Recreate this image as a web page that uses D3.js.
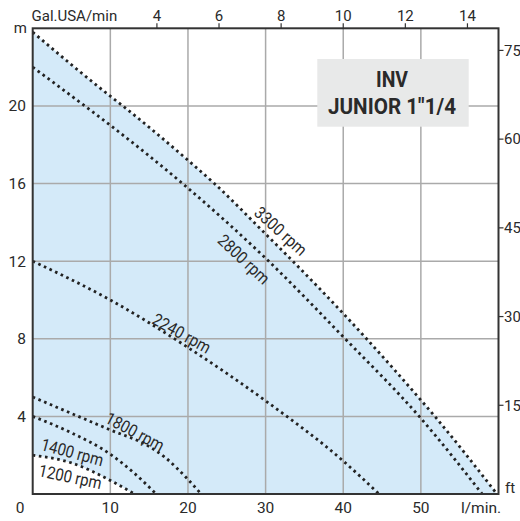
<!DOCTYPE html>
<html><head><meta charset="utf-8">
<script src="https://cdn.jsdelivr.net/npm/d3@7"></script>
<style>body{margin:0;background:#fff}svg{display:block}text{font-family:Roboto,"DejaVu Sans",sans-serif;fill:#2a2a2a}</style>
</head><body>
<script>
// ---- data ----
const flowTicks = [10, 20, 30, 40, 50];
const headTicks = [4, 8, 12, 16, 20];
const galTicks = [4, 6, 8, 10, 12, 14];
const ftTicks = [15, 30, 45, 60, 75];
const rpm3300 = [[0,23.8],[10,20.5],[11.6,20],[20,17.2],[23.4,16],[30,13.4],[33.5,12],[40,9.3],[43,8],[50,4.84],[51.8,4],[59.8,0]];
const rpm2800 = [[0,22],[6.7,20],[10,19],[19.3,16],[30,12.15],[40,8.1],[50,3.9],[57.9,0]];
const rpm2240 = [[0,12],[10,10],[20,7.55],[30,4.8],[40,1.7],[44.6,0]];
const rpm1800 = [[0,5.0],[5,4.15],[10,3.3],[15,2.45],[17,1.9],[20,0.75],[21.7,0]];
const rpm1400 = [[0,4.0],[5,3.15],[10,2.05],[13,1.1],[15.9,0]];
const rpm1200 = [[0,2.0],[5,1.6],[10,0.7],[13.1,0]];
const curveNames = ["3300 rpm","2800 rpm","2240 rpm","1800 rpm","1400 rpm","1200 rpm"];
const labelPos = [[31.96,13.55,42],[27.2,12.1,43],[19.2,8.28,29],[13.17,3.21,28],[5.1,2.15,15],[4.84,0.89,12]];
const titleLines = ["INV", "JUNIOR 1\"1/4"];

// ---- layout ----
const W = 520, H = 521;
const L = 32.7, R = 498.5, T = 28.3, B = 494;
const svg = d3.select("body").append("svg").attr("width", W).attr("height", H);
const x = d3.scaleLinear().domain([0, 60]).range([L, R]);
const y = d3.scaleLinear().domain([0, 24]).range([B, T]);
const xg = d3.scaleLinear().domain([0, 15]).range([L, R]);
const yf = d3.scaleLinear().domain([0, 24 * 3.28084]).range([B, T]);

const line = d3.line().x(d => x(d[0])).y(d => y(d[1])).curve(d3.curveMonotoneX);
const upper = line(rpm3300);
const lowerPath = line(rpm1200);
svg.append("path")
  .attr("d", upper + "L" + x(rpm3300[rpm3300.length-1][0]) + "," + y(0) + "L" + x(0) + "," + y(0) + "Z")
  .attr("fill", "#d4eaf9");
svg.append("path")
  .attr("d", lowerPath + "L" + x(rpm1200[rpm1200.length-1][0]) + "," + y(0) + "L" + x(0) + "," + y(0) + "Z")
  .attr("fill", "#ffffff");

// grid
svg.append("g").selectAll("line").data(flowTicks).join("line")
  .attr("x1", d => x(d)).attr("x2", d => x(d)).attr("y1", T).attr("y2", B)
  .attr("stroke", "#aaaaaa").attr("stroke-width", 1.5);
svg.append("g").selectAll("line").data(headTicks).join("line")
  .attr("x1", L).attr("x2", R).attr("y1", d => y(d)).attr("y2", d => y(d))
  .attr("stroke", "#aaaaaa").attr("stroke-width", 1.5);

// curves
[rpm3300, rpm2800, rpm2240, rpm1800, rpm1400, rpm1200].forEach(c => {
  svg.append("path").attr("d", line(c)).attr("fill", "none")
    .attr("stroke", "#222").attr("stroke-width", 2.8)
    .attr("stroke-dasharray", "2.6,3.6");
});

// title box
svg.append("rect").attr("x", 317.3).attr("y", 59).attr("width", 151.4).attr("height", 67.7).attr("fill", "#e8e9e9");
svg.append("text").attr("x", 392).attr("y", 86.7).attr("text-anchor", "middle")
  .attr("font-size", 21.5).attr("font-weight", "bold").attr("textLength", 32).attr("lengthAdjust", "spacingAndGlyphs").text(titleLines[0]);
svg.append("text").attr("x", 392).attr("y", 114).attr("text-anchor", "middle")
  .attr("font-size", 21.5).attr("font-weight", "bold").attr("textLength", 128).attr("lengthAdjust", "spacingAndGlyphs").text(titleLines[1]);

// frame
svg.append("rect").attr("x", L).attr("y", T).attr("width", R - L).attr("height", B - T)
  .attr("fill", "none").attr("stroke", "#333").attr("stroke-width", 2);

// curve labels
curveNames.forEach((n, i) => {
  const p = labelPos[i];
  svg.append("text")
    .attr("transform", `translate(${x(p[0])},${y(p[1])}) rotate(${p[2]}) scale(0.88,1)`)
    .attr("text-anchor", "middle").attr("dy", "0.35em")
    .attr("font-size", 17).text(n);
});

// bottom axis labels
svg.append("g").selectAll("text").data([0].concat(flowTicks)).join("text")
  .attr("x", d => d === 0 ? 20 : x(d)).attr("y", 513).attr("text-anchor", "middle")
  .attr("font-size", 15.5).text(d => d);
svg.append("text").attr("x", 481).attr("y", 513).attr("text-anchor", "middle").attr("font-size", 15.5).text("l/min.");

// left axis labels
svg.append("g").selectAll("text").data(headTicks).join("text")
  .attr("x", 26).attr("y", d => y(d)).attr("dy", "0.35em").attr("text-anchor", "end")
  .attr("font-size", 15.5).text(d => d);
svg.append("text").attr("x", 27).attr("y", 33).attr("text-anchor", "end").attr("font-size", 15).text("m");

// top axis
svg.append("text").attr("x", 31.5).attr("y", 20.7).attr("font-size", 15).text("Gal.USA/min");
svg.append("g").selectAll("text").data(galTicks).join("text")
  .attr("x", d => xg(d)).attr("y", 20.7).attr("text-anchor", "middle").attr("font-size", 15).text(d => d);
svg.append("g").selectAll("line").data(galTicks).join("line")
  .attr("x1", d => xg(d)).attr("x2", d => xg(d)).attr("y1", T - 5).attr("y2", T)
  .attr("stroke", "#333").attr("stroke-width", 1.2);

// right axis
svg.append("g").selectAll("line").data(ftTicks).join("line")
  .attr("x1", R).attr("x2", R + 5).attr("y1", d => yf(d)).attr("y2", d => yf(d))
  .attr("stroke", "#333").attr("stroke-width", 1.2);
svg.append("g").selectAll("text").data(ftTicks).join("text")
  .attr("x", 504).attr("y", d => yf(d)).attr("dy", "0.35em").attr("font-size", 15).text(d => d);
svg.append("text").attr("x", 505).attr("y", 493).attr("font-size", 15).text("ft");
</script>
</body></html>
